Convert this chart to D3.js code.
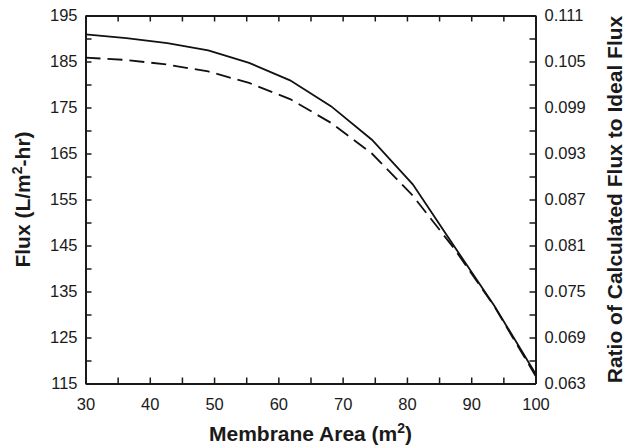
<!DOCTYPE html>
<html>
<head>
<meta charset="utf-8">
<script src="https://cdn.jsdelivr.net/npm/d3@7"></script>
<style>
  body { margin: 0; background: #fff; }
  text { font-family: "Liberation Sans", Arial, sans-serif; fill: #1a1a1a; }
  .axis path, .axis line { stroke: #1a1a1a; }
</style>
</head>
<body>
<script>
// membrane area (m2) where the curves were read
var areas = [30, 36.36, 42.73, 49.09, 55.45, 61.82, 68.18, 74.55, 80.91, 87.27, 93.64, 100];
// flux on left axis (solid line)
var flux = [190.9, 190.1, 189.0, 187.4, 184.7, 180.9, 175.3, 168.0, 158.3, 145.0, 131.8, 117.1];
// ratio of calculated flux to ideal flux on right axis (dashed line)
var ratio = [0.1055, 0.1052, 0.1046, 0.1037, 0.1022, 0.1001, 0.0970, 0.0930, 0.0875, 0.0807, 0.0730, 0.0640];

var xTicks = d3.range(30, 101, 5);
var fluxTicks = d3.range(115, 196, 5);
var ratioTicks = d3.range(0, 17).map(function(i) { return +(0.063 + i * 0.003).toFixed(3); });

var width = 629, height = 447;
var plotLeft = 85.5, plotRight = 535.5, plotTop = 15.5, plotBottom = 383.5;

var svg = d3.select("body")
    .append("svg")
    .attr("width", width)
    .attr("height", height);

var x = d3.scaleLinear().domain([30, 100]).range([plotLeft, plotRight]);
var yL = d3.scaleLinear().domain([115, 195]).range([plotBottom, plotTop]);
var yR = d3.scaleLinear().domain([0.063, 0.111]).range([plotBottom, plotTop]);

// bottom axis, ticks point inward, labels every 10
svg.append("g")
    .attr("class", "axis")
    .attr("transform", "translate(0," + plotBottom + ")")
    .call(d3.axisBottom(x).tickValues(xTicks).tickSizeInner(-6).tickSizeOuter(0).tickPadding(15)
        .tickFormat(function(d) { return d % 10 === 0 ? d : ""; }));

// top axis, only ticks
svg.append("g")
    .attr("class", "axis")
    .attr("transform", "translate(0," + plotTop + ")")
    .call(d3.axisTop(x).tickValues(xTicks).tickSizeInner(-6).tickSizeOuter(0).tickFormat(""));

// left axis
svg.append("g")
    .attr("class", "axis")
    .attr("transform", "translate(" + plotLeft + ",0)")
    .call(d3.axisLeft(yL).tickValues(fluxTicks).tickSizeInner(-6).tickSizeOuter(0).tickPadding(8)
        .tickFormat(function(d) { return (d - 115) % 10 === 0 ? d : ""; }));

// right axis
svg.append("g")
    .attr("class", "axis")
    .attr("transform", "translate(" + plotRight + ",0)")
    .call(d3.axisRight(yR).tickValues(ratioTicks).tickSizeInner(-6).tickSizeOuter(0).tickPadding(9)
        .tickFormat(function(d, i) { return i % 2 === 0 ? d3.format(".3f")(d) : ""; }));

svg.selectAll(".axis path").attr("stroke-width", 2);
svg.selectAll(".axis line").attr("stroke-width", 1.5);
svg.selectAll(".axis text").attr("font-size", "16.5px").attr("fill", "#1a1a1a")
    .attr("font-family", "'Liberation Sans', Arial, sans-serif");

// curves
var fluxLine = d3.line()
    .x(function(d, i) { return x(areas[i]); })
    .y(function(d) { return yL(d); });

var ratioLine = d3.line()
    .x(function(d, i) { return x(areas[i]); })
    .y(function(d) { return yR(d); });

svg.append("path")
    .datum(flux)
    .attr("d", fluxLine)
    .attr("fill", "none")
    .attr("stroke", "#111")
    .attr("stroke-width", 1.8);

svg.append("path")
    .datum(ratio)
    .attr("d", ratioLine)
    .attr("fill", "none")
    .attr("stroke", "#111")
    .attr("stroke-width", 1.8)
    .attr("stroke-dasharray", "15,7");

// axis titles
var xt = svg.append("text")
    .attr("x", (plotLeft + plotRight) / 2)
    .attr("y", 441)
    .attr("text-anchor", "middle")
    .attr("font-size", "21px")
    .attr("font-weight", "bold");
xt.append("tspan").text("Membrane Area (m");
xt.append("tspan").attr("dy", -8).attr("font-size", "14px").text("2");
xt.append("tspan").attr("dy", 8).text(")");

var lt = svg.append("text")
    .attr("transform", "translate(30," + (plotTop + plotBottom) / 2 + ") rotate(-90)")
    .attr("text-anchor", "middle")
    .attr("font-size", "21px")
    .attr("font-weight", "bold");
lt.append("tspan").text("Flux (L/m");
lt.append("tspan").attr("dy", -8).attr("font-size", "14px").text("2");
lt.append("tspan").attr("dy", 8).text("-hr)");

svg.append("text")
    .attr("transform", "translate(622," + (plotTop + plotBottom) / 2 + ") rotate(-90)")
    .attr("text-anchor", "middle")
    .attr("font-size", "21px")
    .attr("font-weight", "bold")
    .text("Ratio of Calculated Flux to Ideal Flux");
</script>
</body>
</html>
